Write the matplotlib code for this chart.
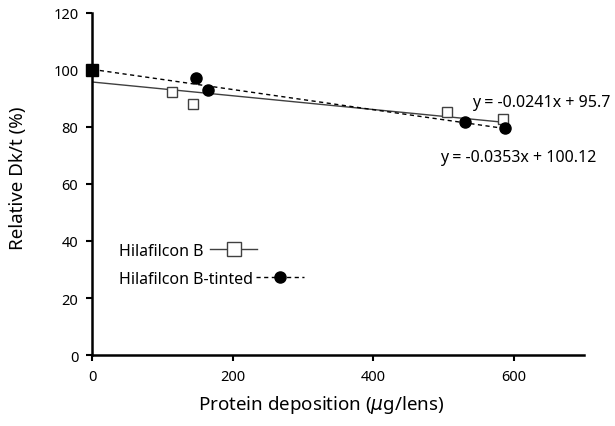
import numpy as np
import matplotlib.pyplot as plt
from matplotlib.lines import Line2D

plt.rcParams['font.family'] = ['Noto Sans', 'DejaVu Sans']

# data (x = protein deposition, y = relative Dk/t)
plain_x = [0, 114, 144, 505, 584]
plain_y = [100, 92.2, 88.0, 85.1, 82.6]
tinted_x = [0, 148, 164, 530, 587]
tinted_y = [100, 97.1, 93.0, 81.6, 79.6]

# trendline coefficients printed on the chart
plain_fit = (-0.0241, 95.7)
tinted_fit = (-0.0353, 100.12)
plain_label = "y = -0.0241x + 95.7"
tinted_label = "y = -0.0353x + 100.12"

fig = plt.figure(figsize=(6.15, 4.27), dpi=100)
ax = fig.add_axes([0.15, 0.166, 0.80, 0.802])

# trendlines
xs = np.array([0, max(plain_x)])
ax.plot(xs, plain_fit[0] * xs + plain_fit[1], color="#404040", lw=1.0, zorder=2)
xs = np.array([0, max(tinted_x)])
ax.plot(xs, tinted_fit[0] * xs + tinted_fit[1], color="black", lw=1.0,
        ls=(0, (3, 2.5)), zorder=2)

# markers
ax.plot(plain_x[1:], plain_y[1:], ls="none", marker="s", ms=7.5,
        mfc="white", mec="#404040", mew=1.0, zorder=3)
ax.plot(tinted_x[1:], tinted_y[1:], ls="none", marker="o", ms=8,
        color="black", zorder=4)
# shared baseline point (both series at 0)
ax.plot(plain_x[0], plain_y[0], ls="none", marker="s", ms=8.5,
        color="black", zorder=5, clip_on=False)

ax.set_xlim(0, 700)
ax.set_ylim(0, 120)
ax.set_xticks([0, 200, 400, 600])
ax.set_yticks(range(0, 121, 20))
for s in ["top", "right"]:
    ax.spines[s].set_visible(False)
for s in ["left", "bottom"]:
    ax.spines[s].set_linewidth(1.8)
ax.tick_params(direction="out", length=4, width=1.5, labelsize=10.5, pad=6)

ax.set_xlabel("Protein deposition ($\\mu$g/lens)", fontsize=13.5)
ax.set_ylabel("Relative Dk/t (%)", fontsize=13.5)
ax.xaxis.set_label_coords(0.465, -0.112)
ax.yaxis.set_label_coords(-0.132, 0.52)

ax.text(541, 88.8, plain_label, fontsize=11.5, va="center")
ax.text(495, 69.5, tinted_label, fontsize=11.5, va="center")

# legend: handles follow each label, as in the source
h1 = Line2D([], [], color="#404040", lw=1.0, marker="s", ms=10,
            mfc="white", mec="#404040")
h2 = Line2D([], [], color="black", lw=1.0, ls=(0, (3, 2.5)), marker="o", ms=8)
fig.legend([h1], ["Hilafilcon B"], loc="center left",
           bbox_to_anchor=(0.18, 0.41), frameon=False,
           markerfirst=False, fontsize=11.5, handlelength=3.0,
           handletextpad=0.4, borderpad=0)
fig.legend([h2], ["Hilafilcon B-tinted"], loc="center left",
           bbox_to_anchor=(0.18, 0.345), frameon=False,
           markerfirst=False, fontsize=11.5, handlelength=3.0,
           handletextpad=0.2, borderpad=0)

fig.savefig("out.png", dpi=100)
